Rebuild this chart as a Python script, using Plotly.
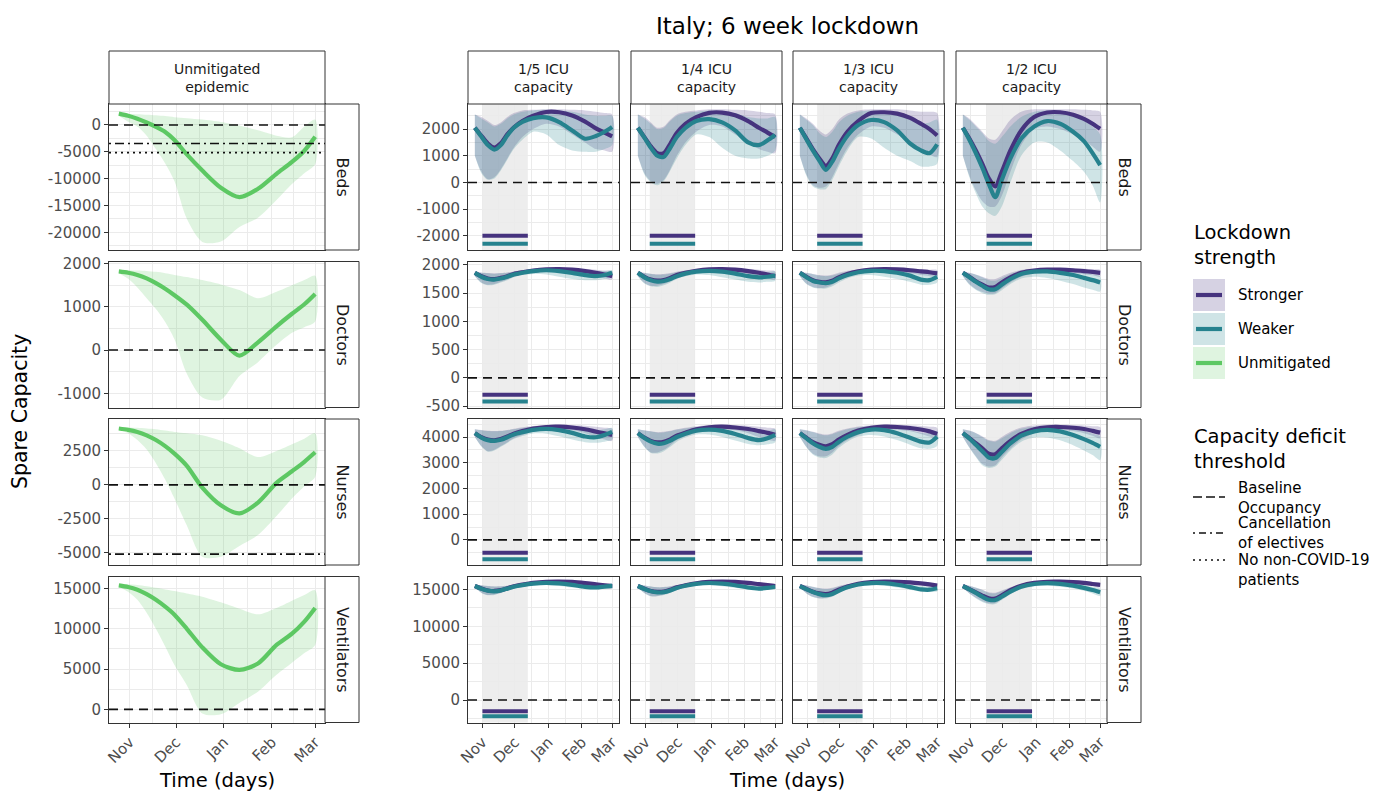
import plotly.graph_objects as go

W, H = 1385, 796
FONT = "DejaVu Sans"

# ---------------------------------------------------------------- data
DATES = ["2020-10-25", "2020-10-31", "2020-11-06", "2020-11-12", "2020-11-18",
         "2020-11-24", "2020-11-30", "2020-12-08", "2020-12-18", "2020-12-30",
         "2021-01-11", "2021-01-23", "2021-02-04", "2021-02-14", "2021-02-22",
         "2021-03-01"]
TICK_DATES = ["2020-11-01", "2020-12-01", "2021-01-01", "2021-02-01", "2021-03-01"]
TICK_MONTHS = ["Nov", "Dec", "Jan", "Feb", "Mar"]
MINOR_DATES = ["2020-11-16", "2020-12-16 12:00", "2021-01-16 12:00", "2021-02-15"]
X_RANGE = ["2020-10-18 15:36", "2021-03-07 08:24"]

RESOURCES = ["Beds", "Doctors", "Nurses", "Ventilators"]
ICU_TRIGGERS = ["1/5 ICU<br>capacity", "1/4 ICU<br>capacity",
                "1/3 ICU<br>capacity", "1/2 ICU<br>capacity"]
LOCKDOWN_START = ["2020-11-01", "2020-11-05", "2020-11-10", "2020-11-16"]
LOCKDOWN_END = ["2020-12-13", "2020-12-17", "2020-12-22", "2020-12-28"]

# unmitigated epidemic (median and interval)
beds_unmit_mid = [2100, 1700, 1150, 450, -350, -1300, -2800, -5500, -8500, -11700,
                  -13450, -11900, -9100, -6900, -4800, -2200]
beds_unmit_lo = [1700, 600, -300, -2000, -4500, -7200, -10500, -17500, -21800, -21700,
                 -19000, -17300, -14000, -11000, -9000, -7300]
beds_unmit_hi = [2100, 2050, 2000, 1900, 1800, 1650, 1450, 1250, 1000, 550,
                 -100, -1000, -2000, -2300, -300, 1000]
doctors_unmit_mid = [1820, 1790, 1740, 1660, 1550, 1420, 1270, 1050, 700, 240,
                     -130, 180, 550, 840, 1060, 1300]
doctors_unmit_lo = [1780, 1650, 1450, 1200, 950, 650, 250, -550, -1100, -1150,
                    -600, -280, 120, 400, 530, 660]
doctors_unmit_hi = [1850, 1850, 1840, 1830, 1810, 1780, 1740, 1690, 1620, 1520,
                    1390, 1200, 1350, 1500, 1620, 1720]
nurses_unmit_mid = [4150, 4050, 3900, 3650, 3300, 2850, 2300, 1400, -200, -1500,
                    -2100, -1300, 150, 1000, 1700, 2400]
nurses_unmit_lo = [4050, 3800, 3300, 2600, 1600, 400, -1000, -3000, -5300, -5300,
                   -4500, -3700, -2300, -1000, -100, 600]
nurses_unmit_hi = [4250, 4230, 4200, 4150, 4100, 4000, 3900, 3800, 3650, 3250,
                   2700, 2050, 2500, 3000, 3400, 3800]
vents_unmit_mid = [15400, 15200, 14850, 14300, 13600, 12750, 11750, 10000, 7700, 5600,
                   4900, 5700, 8000, 9400, 10900, 12600]
vents_unmit_lo = [15200, 14600, 13600, 12000, 10000, 7800, 5500, 3000, -500, -600,
                  800, 2200, 4300, 5800, 7000, 8000]
vents_unmit_hi = [15600, 15550, 15450, 15300, 15100, 14900, 14700, 14400, 14000, 13300,
                  12500, 11800, 12600, 13500, 14200, 14800]

# lockdown scenarios: one list per ICU trigger (1/5, 1/4, 1/3, 1/2)
beds_stronger_mid = [
    [2050, 1750, 1460, 1310, 1470, 1800, 2060, 2300, 2500, 2640, 2630, 2510, 2280, 2030, 1870, 1730],
    [2050, 1700, 1350, 1100, 1100, 1450, 1850, 2200, 2450, 2610, 2620, 2520, 2300, 2050, 1870, 1700],
    [2050, 1650, 1250, 900, 620, 900, 1400, 1900, 2300, 2600, 2630, 2580, 2420, 2200, 2000, 1760],
    [2050, 1650, 1200, 700, 150, -150, 400, 1200, 1950, 2450, 2620, 2630, 2540, 2380, 2200, 2010]]
beds_stronger_lo = [
    [1000, 400, 120, 200, 500, 900, 1300, 1700, 2000, 2200, 2100, 1800, 1500, 1250, 1200, 1150],
    [1000, 350, 50, -50, 100, 500, 1000, 1500, 1900, 2150, 2100, 1800, 1500, 1250, 1150, 1100],
    [1000, 300, -100, -200, -150, 200, 700, 1300, 1800, 2100, 2050, 1800, 1500, 1200, 1050, 950],
    [1000, 250, -300, -700, -900, -900, -500, 400, 1400, 2000, 2100, 2000, 1800, 1600, 1350, 1150]]
beds_stronger_hi = [
    [2550, 2450, 2300, 2150, 2250, 2450, 2600, 2700, 2720, 2740, 2740, 2720, 2700, 2650, 2600, 2550],
    [2550, 2450, 2250, 2050, 2100, 2350, 2550, 2650, 2700, 2740, 2740, 2720, 2700, 2650, 2600, 2550],
    [2550, 2400, 2200, 1950, 1800, 2000, 2350, 2580, 2700, 2740, 2740, 2740, 2700, 2650, 2650, 2600],
    [2550, 2400, 2150, 1900, 1650, 1600, 1900, 2350, 2650, 2740, 2740, 2740, 2740, 2720, 2700, 2650]]
beds_weaker_mid = [
    [2050, 1720, 1400, 1230, 1400, 1760, 2050, 2270, 2410, 2440, 2260, 1950, 1640, 1740, 1900, 2080],
    [2050, 1680, 1300, 1000, 960, 1300, 1700, 2050, 2300, 2370, 2250, 1950, 1500, 1400, 1580, 1780],
    [2050, 1620, 1200, 820, 470, 780, 1250, 1750, 2150, 2340, 2260, 1950, 1460, 1200, 1100, 1430],
    [2050, 1600, 1100, 550, -50, -550, 100, 900, 1650, 2100, 2300, 2200, 1900, 1550, 1100, 650]]
beds_weaker_lo = [
    [1000, 350, 100, 150, 450, 850, 1250, 1600, 1900, 1800, 1400, 1200, 1150, 1150, 1250, 1400],
    [1000, 300, 0, -100, 50, 450, 900, 1400, 1800, 1700, 1300, 1000, 900, 900, 1000, 1200],
    [1000, 250, -150, -250, -250, 100, 600, 1200, 1700, 1650, 1300, 1000, 800, 600, 600, 700],
    [1000, 200, -400, -900, -1150, -1250, -900, 0, 1000, 1500, 1500, 1200, 800, 400, -100, -750]]
beds_weaker_hi = [
    [2550, 2400, 2250, 2100, 2200, 2400, 2550, 2650, 2700, 2720, 2700, 2650, 2550, 2500, 2500, 2500],
    [2550, 2400, 2200, 2000, 2050, 2300, 2500, 2600, 2650, 2700, 2650, 2600, 2450, 2400, 2400, 2450],
    [2550, 2350, 2150, 1850, 1700, 1900, 2250, 2500, 2650, 2700, 2650, 2550, 2350, 2200, 2250, 2350],
    [2550, 2350, 2100, 1850, 1550, 1450, 1700, 2100, 2450, 2650, 2700, 2650, 2550, 2350, 2100, 1800]]

doctors_stronger_mid = [
    [1860, 1800, 1760, 1750, 1770, 1800, 1840, 1870, 1900, 1920, 1925, 1915, 1890, 1860, 1830, 1800],
    [1860, 1790, 1740, 1720, 1730, 1770, 1820, 1860, 1895, 1920, 1925, 1915, 1890, 1860, 1830, 1800],
    [1860, 1790, 1730, 1700, 1690, 1720, 1780, 1840, 1885, 1915, 1925, 1920, 1905, 1885, 1870, 1850],
    [1860, 1790, 1710, 1650, 1600, 1610, 1690, 1780, 1860, 1900, 1915, 1915, 1905, 1890, 1875, 1860]]
doctors_stronger_lo = [
    [1800, 1690, 1650, 1660, 1700, 1740, 1790, 1830, 1860, 1880, 1885, 1865, 1830, 1790, 1760, 1740],
    [1800, 1680, 1630, 1630, 1660, 1710, 1770, 1820, 1860, 1880, 1885, 1865, 1830, 1790, 1760, 1740],
    [1800, 1670, 1610, 1590, 1600, 1650, 1720, 1790, 1840, 1870, 1880, 1870, 1850, 1820, 1800, 1780],
    [1800, 1660, 1570, 1520, 1490, 1500, 1580, 1690, 1790, 1850, 1870, 1870, 1855, 1835, 1815, 1795]]
doctors_stronger_hi = [
    [1880, 1865, 1855, 1850, 1855, 1865, 1885, 1905, 1925, 1940, 1945, 1940, 1930, 1915, 1900, 1885],
    [1880, 1860, 1845, 1835, 1840, 1855, 1880, 1900, 1925, 1940, 1945, 1940, 1930, 1915, 1900, 1885],
    [1880, 1860, 1840, 1820, 1810, 1825, 1860, 1895, 1920, 1940, 1945, 1945, 1935, 1925, 1915, 1905],
    [1880, 1860, 1830, 1790, 1750, 1750, 1800, 1860, 1910, 1935, 1945, 1945, 1940, 1930, 1920, 1910]]
doctors_weaker_mid = [
    [1860, 1790, 1750, 1740, 1760, 1790, 1830, 1860, 1890, 1905, 1890, 1860, 1820, 1800, 1820, 1860],
    [1860, 1780, 1730, 1705, 1715, 1750, 1800, 1845, 1880, 1895, 1880, 1845, 1800, 1780, 1790, 1810],
    [1860, 1780, 1715, 1690, 1675, 1700, 1760, 1820, 1870, 1895, 1890, 1860, 1810, 1740, 1730, 1790],
    [1860, 1780, 1700, 1630, 1570, 1570, 1650, 1750, 1840, 1880, 1885, 1860, 1820, 1770, 1730, 1690]]
doctors_weaker_lo = [
    [1800, 1680, 1640, 1650, 1690, 1730, 1780, 1820, 1840, 1830, 1790, 1750, 1730, 1730, 1750, 1780],
    [1800, 1670, 1620, 1610, 1640, 1690, 1750, 1800, 1830, 1820, 1780, 1740, 1700, 1690, 1700, 1720],
    [1800, 1660, 1600, 1580, 1580, 1620, 1690, 1760, 1810, 1820, 1790, 1750, 1700, 1650, 1650, 1690],
    [1800, 1650, 1560, 1500, 1470, 1480, 1550, 1660, 1760, 1790, 1770, 1720, 1660, 1600, 1560, 1530]]
doctors_weaker_hi = [
    [1880, 1860, 1850, 1840, 1850, 1860, 1880, 1900, 1920, 1930, 1925, 1915, 1900, 1890, 1890, 1900],
    [1880, 1855, 1840, 1825, 1830, 1845, 1870, 1895, 1915, 1925, 1920, 1905, 1885, 1870, 1870, 1880],
    [1880, 1855, 1835, 1810, 1800, 1810, 1845, 1880, 1910, 1925, 1925, 1910, 1885, 1850, 1850, 1870],
    [1880, 1855, 1825, 1780, 1730, 1720, 1770, 1840, 1900, 1925, 1925, 1910, 1890, 1860, 1830, 1800]]

nurses_stronger_mid = [
    [4150, 4000, 3900, 3870, 3920, 4020, 4130, 4230, 4330, 4390, 4400, 4370, 4300, 4210, 4140, 4080],
    [4150, 3980, 3850, 3790, 3810, 3910, 4050, 4170, 4300, 4380, 4400, 4370, 4310, 4230, 4160, 4090],
    [4150, 3970, 3800, 3700, 3640, 3720, 3900, 4080, 4250, 4360, 4400, 4390, 4350, 4290, 4220, 4120],
    [4150, 3960, 3760, 3560, 3350, 3330, 3560, 3850, 4120, 4300, 4380, 4390, 4360, 4310, 4240, 4170]]
nurses_stronger_lo = [
    [4000, 3650, 3450, 3500, 3650, 3800, 3950, 4080, 4200, 4280, 4300, 4260, 4150, 4000, 3900, 3850],
    [4000, 3630, 3400, 3400, 3500, 3680, 3880, 4030, 4170, 4270, 4300, 4260, 4150, 4000, 3900, 3850],
    [4000, 3620, 3350, 3250, 3250, 3400, 3650, 3880, 4080, 4230, 4290, 4280, 4220, 4120, 4020, 3920],
    [4000, 3600, 3250, 2950, 2850, 2900, 3200, 3550, 3900, 4150, 4260, 4270, 4230, 4150, 4050, 3950]]
nurses_stronger_hi = [
    [4300, 4270, 4240, 4230, 4240, 4270, 4320, 4380, 4430, 4470, 4480, 4470, 4440, 4400, 4360, 4320],
    [4300, 4260, 4220, 4190, 4200, 4240, 4300, 4360, 4420, 4470, 4480, 4470, 4440, 4400, 4360, 4320],
    [4300, 4260, 4200, 4140, 4100, 4140, 4240, 4330, 4410, 4460, 4480, 4480, 4460, 4430, 4400, 4360],
    [4300, 4250, 4160, 4030, 3880, 3850, 4000, 4200, 4370, 4450, 4480, 4480, 4470, 4450, 4420, 4390]]
nurses_weaker_mid = [
    [4150, 3980, 3880, 3850, 3890, 3990, 4100, 4190, 4280, 4320, 4270, 4160, 4020, 3990, 4080, 4200],
    [4150, 3960, 3820, 3740, 3760, 3860, 4000, 4130, 4250, 4290, 4240, 4120, 3960, 3880, 3950, 4080],
    [4150, 3950, 3760, 3620, 3540, 3620, 3810, 4010, 4190, 4290, 4270, 4150, 3970, 3820, 3790, 4010],
    [4150, 3940, 3700, 3450, 3200, 3180, 3420, 3750, 4050, 4220, 4280, 4220, 4080, 3920, 3770, 3620]]
nurses_weaker_lo = [
    [4000, 3630, 3430, 3480, 3620, 3770, 3920, 4040, 4140, 4130, 4030, 3900, 3800, 3780, 3820, 3900],
    [4000, 3610, 3380, 3360, 3450, 3620, 3820, 3980, 4100, 4100, 4000, 3860, 3730, 3680, 3720, 3800],
    [4000, 3600, 3320, 3200, 3180, 3320, 3580, 3820, 4020, 4080, 4020, 3880, 3700, 3560, 3540, 3650],
    [4000, 3580, 3220, 2900, 2800, 2850, 3120, 3480, 3820, 3980, 3980, 3870, 3680, 3480, 3300, 3100]]
nurses_weaker_hi = [
    [4300, 4260, 4230, 4220, 4230, 4260, 4300, 4350, 4400, 4420, 4400, 4350, 4280, 4250, 4300, 4350],
    [4300, 4250, 4210, 4170, 4180, 4220, 4280, 4330, 4390, 4410, 4390, 4330, 4240, 4200, 4230, 4300],
    [4300, 4250, 4190, 4110, 4070, 4110, 4200, 4300, 4380, 4420, 4410, 4350, 4260, 4170, 4150, 4230],
    [4300, 4240, 4150, 4000, 3850, 3820, 3950, 4150, 4320, 4400, 4420, 4390, 4320, 4230, 4130, 4030]]

vents_stronger_mid = [
    [15450, 15100, 14850, 14780, 14900, 15150, 15420, 15650, 15880, 16020, 16050, 16000, 15850, 15680, 15550, 15450],
    [15450, 15070, 14770, 14650, 14700, 14950, 15280, 15560, 15830, 16000, 16050, 16000, 15870, 15700, 15570, 15450],
    [15450, 15050, 14680, 14450, 14350, 14550, 14950, 15380, 15750, 15970, 16050, 16030, 15950, 15820, 15680, 15520],
    [15450, 15030, 14580, 14150, 13800, 13750, 14200, 14880, 15500, 15880, 16030, 16040, 15980, 15870, 15730, 15600]]
vents_stronger_lo = [
    [15200, 14550, 14250, 14300, 14550, 14850, 15150, 15420, 15680, 15850, 15900, 15820, 15620, 15400, 15230, 15100],
    [15200, 14500, 14100, 14100, 14300, 14600, 15000, 15320, 15620, 15820, 15900, 15820, 15620, 15400, 15230, 15100],
    [15200, 14480, 13980, 13800, 13850, 14100, 14600, 15100, 15520, 15780, 15880, 15850, 15720, 15550, 15380, 15200],
    [15200, 14450, 13850, 13400, 13100, 13150, 13700, 14500, 15220, 15650, 15850, 15850, 15750, 15600, 15430, 15260]]
vents_stronger_hi = [
    [15650, 15550, 15450, 15400, 15420, 15500, 15640, 15800, 15980, 16120, 16150, 16120, 16020, 15900, 15800, 15720],
    [15650, 15530, 15400, 15300, 15320, 15420, 15580, 15750, 15950, 16100, 16150, 16120, 16030, 15920, 15820, 15720],
    [15650, 15520, 15350, 15180, 15100, 15200, 15450, 15680, 15900, 16080, 16150, 16140, 16100, 16000, 15900, 15800],
    [15650, 15500, 15250, 14950, 14600, 14550, 14850, 15300, 15750, 16020, 16140, 16150, 16120, 16050, 15950, 15850]]
vents_weaker_mid = [
    [15450, 15080, 14820, 14730, 14850, 15100, 15360, 15580, 15780, 15880, 15800, 15600, 15330, 15250, 15380, 15480],
    [15450, 15050, 14730, 14580, 14620, 14850, 15180, 15480, 15740, 15860, 15780, 15560, 15250, 15100, 15200, 15350],
    [15450, 15030, 14640, 14350, 14200, 14380, 14800, 15270, 15650, 15850, 15830, 15620, 15300, 15000, 14950, 15150],
    [15450, 15010, 14520, 14000, 13600, 13550, 14000, 14700, 15350, 15720, 15850, 15750, 15500, 15200, 14900, 14600]]
vents_weaker_lo = [
    [15200, 14520, 14200, 14250, 14500, 14800, 15080, 15320, 15530, 15580, 15450, 15250, 15050, 15000, 15080, 15150],
    [15200, 14480, 14050, 14050, 14230, 14520, 14900, 15220, 15480, 15560, 15420, 15200, 14950, 14850, 14900, 15000],
    [15200, 14450, 13950, 13750, 13750, 14000, 14500, 15000, 15400, 15550, 15480, 15250, 14950, 14700, 14650, 14750],
    [15200, 14420, 13800, 13300, 13000, 13000, 13550, 14350, 15050, 15400, 15480, 15350, 15100, 14800, 14450, 14100]]
vents_weaker_hi = [
    [15650, 15540, 15430, 15380, 15400, 15480, 15600, 15750, 15920, 16000, 15960, 15850, 15650, 15570, 15650, 15750],
    [15650, 15520, 15380, 15270, 15280, 15380, 15530, 15700, 15900, 15990, 15950, 15820, 15600, 15480, 15530, 15650],
    [15650, 15510, 15330, 15150, 15050, 15130, 15380, 15620, 15860, 15990, 15990, 15880, 15680, 15450, 15400, 15500],
    [15650, 15490, 15230, 14900, 14500, 14450, 14750, 15200, 15680, 15950, 16020, 15960, 15800, 15600, 15350, 15100]]

# lockdown-period markers (per resource) and capacity deficit thresholds
STRONGER_BAR = [-2000, -300, -500, -1500]
WEAKER_BAR = [-2300, -420, -750, -2200]
BASELINE = [0, 0, 0, 0]
CANCEL_ELECTIVES = [-3450, None, -5100, None]
NO_NON_COVID = [-5150, None, None, None]

UNMIT = [(beds_unmit_mid, beds_unmit_lo, beds_unmit_hi),
         (doctors_unmit_mid, doctors_unmit_lo, doctors_unmit_hi),
         (nurses_unmit_mid, nurses_unmit_lo, nurses_unmit_hi),
         (vents_unmit_mid, vents_unmit_lo, vents_unmit_hi)]
STRONGER = [(beds_stronger_mid, beds_stronger_lo, beds_stronger_hi),
            (doctors_stronger_mid, doctors_stronger_lo, doctors_stronger_hi),
            (nurses_stronger_mid, nurses_stronger_lo, nurses_stronger_hi),
            (vents_stronger_mid, vents_stronger_lo, vents_stronger_hi)]
WEAKER = [(beds_weaker_mid, beds_weaker_lo, beds_weaker_hi),
          (doctors_weaker_mid, doctors_weaker_lo, doctors_weaker_hi),
          (nurses_weaker_mid, nurses_weaker_lo, nurses_weaker_hi),
          (vents_weaker_mid, vents_weaker_lo, vents_weaker_hi)]

# ---------------------------------------------------------------- style
C_STRONG, C_WEAK, C_UNMIT = "#46337E", "#26828E", "#5DC863"
F_STRONG = "rgba(70,51,126,0.22)"
F_WEAK = "rgba(38,130,142,0.22)"
F_UNMIT = "rgba(93,200,99,0.2)"
GRID = "#EBEBEB"
BORDER = "#333333"
TICK_FONT = dict(family=FONT, size=15, color="#4D4D4D")

COL_X = [(109, 325), (468, 619), (631, 782), (793, 944), (956, 1107)]
ROW_Y = [(104, 250), (261.5, 407.5), (419, 565), (576.5, 722.5)]

LEFT_RANGE = [(-23300, 3900), (-1330, 2050), (-5900, 4850), (-1630, 16500)]
LEFT_TICKS = [[-20000, -15000, -10000, -5000, 0], [-1000, 0, 1000, 2000],
              [-5000, -2500, 0, 2500], [0, 5000, 10000, 15000]]
RIGHT_RANGE = [(-2530, 2940), (-525, 2060), (-975, 4700), (-3040, 16740)]
RIGHT_TICKS = [[-2000, -1000, 0, 1000, 2000], [-500, 0, 500, 1000, 1500, 2000],
               [-1000, 0, 1000, 2000, 3000, 4000], [0, 5000, 10000, 15000]]


def minor_between(ticks, lo, hi):
    step = ticks[1] - ticks[0]
    vals = [t - step / 2 for t in ticks] + [ticks[-1] + step / 2]
    return [v for v in vals if lo < v < hi]


def sid(r, c):
    n = r * 5 + c + 1
    return "" if n == 1 else str(n)


def px(x):
    return x / W


def py(y):
    return 1 - y / H


fig = go.Figure()


def band(xs, lo, hi, fill, s):
    fig.add_trace(go.Scatter(
        x=xs + xs[::-1], y=hi + lo[::-1], fill="toself", fillcolor=fill,
        mode="lines", line=dict(width=0, shape="spline", smoothing=0.8),
        hoverinfo="skip", showlegend=False, xaxis="x" + s, yaxis="y" + s))


def curve(xs, ys, color, s, width=4.2):
    fig.add_trace(go.Scatter(
        x=xs, y=ys, mode="lines", line=dict(color=color, width=width,
                                            shape="spline", smoothing=0.8),
        hoverinfo="skip", showlegend=False, xaxis="x" + s, yaxis="y" + s))


shapes = []
annotations = []
axes = {}

for r in range(4):
    for c in range(5):
        s = sid(r, c)
        x0, x1 = COL_X[c]
        top, bot = ROW_Y[r]
        bottom_row = r == 3
        axes["xaxis" + s] = dict(
            domain=[px(x0), px(x1)], anchor="y" + s, type="date", range=X_RANGE,
            automargin=False,
            tickmode="array", tickvals=TICK_DATES, ticktext=TICK_MONTHS,
            showticklabels=bottom_row, ticks="outside" if bottom_row else "",
            ticklen=4, tickwidth=1, tickcolor=BORDER, tickangle=-45,
            tickfont=TICK_FONT, showgrid=True, gridcolor=GRID, gridwidth=1.1,
            minor=dict(tickvals=MINOR_DATES, showgrid=True, gridcolor=GRID,
                       gridwidth=0.55, ticks=""),
            showline=True, mirror=True, linecolor=BORDER, linewidth=1,
            zeroline=False, fixedrange=True)
        if c == 0:
            yr, yt = LEFT_RANGE[r], LEFT_TICKS[r]
        else:
            yr, yt = RIGHT_RANGE[r], RIGHT_TICKS[r]
        labelled = c <= 1
        axes["yaxis" + s] = dict(
            domain=[py(bot), py(top)], anchor="x" + s, range=list(yr),
            automargin=False,
            tickmode="array", tickvals=yt, ticktext=[str(v) for v in yt],
            showticklabels=labelled, ticks="outside" if labelled else "",
            ticklen=4, tickwidth=1, tickcolor=BORDER, tickfont=TICK_FONT,
            showgrid=True, gridcolor=GRID, gridwidth=1.1,
            minor=dict(tickvals=minor_between(yt, *yr), showgrid=True,
                       gridcolor=GRID, gridwidth=0.55, ticks=""),
            showline=True, mirror=True, linecolor=BORDER, linewidth=1,
            zeroline=False, fixedrange=True)

        if c == 0:
            mid, lo, hi = UNMIT[r]
            band(DATES, lo, hi, F_UNMIT, s)
            curve(DATES, mid, C_UNMIT, s)
        else:
            k = c - 1
            shapes.append(dict(type="rect", xref="x" + s, yref="y" + s + " domain",
                               x0=LOCKDOWN_START[k], x1=LOCKDOWN_END[k], y0=0, y1=1,
                               fillcolor="#EDEDED", line=dict(width=0), layer="below"))
            smid, slo, shi = STRONGER[r]
            wmid, wlo, whi = WEAKER[r]
            band(DATES, slo[k], shi[k], F_STRONG, s)
            band(DATES, wlo[k], whi[k], F_WEAK, s)
            curve(DATES, smid[k], C_STRONG, s)
            curve(DATES, wmid[k], C_WEAK, s)
            for yv, col in ((STRONGER_BAR[r], C_STRONG), (WEAKER_BAR[r], C_WEAK)):
                fig.add_trace(go.Scatter(
                    x=[LOCKDOWN_START[k], LOCKDOWN_END[k]], y=[yv, yv], mode="lines",
                    line=dict(color=col, width=4), hoverinfo="skip",
                    showlegend=False, xaxis="x" + s, yaxis="y" + s))

        # capacity thresholds
        for val, dash in ((BASELINE[r], "9px,6px"),
                          (CANCEL_ELECTIVES[r], "2px,4px,9px,4px"),
                          (NO_NON_COVID[r], "2px,4px")):
            if val is None or not (yr[0] < val < yr[1]):
                continue
            shapes.append(dict(type="line", xref="x" + s + " domain", yref="y" + s,
                               x0=0, x1=1, y0=val, y1=val,
                               line=dict(color="#111111", width=1.6, dash=dash),
                               layer="above"))


def paper_rect(x0, y0, x1, y1):
    shapes.append(dict(type="rect", xref="paper", yref="paper",
                       x0=px(x0), x1=px(x1), y0=py(y1), y1=py(y0),
                       fillcolor="white", line=dict(color=BORDER, width=1)))


def text(x, y, t, size, angle=0, anchor="center", color="#1A1A1A"):
    annotations.append(dict(xref="paper", yref="paper", x=px(x), y=py(y), text=t,
                            showarrow=False, xanchor=anchor, yanchor="middle",
                            textangle=angle, align="left" if anchor == "left" else "center",
                            font=dict(family=FONT, size=size, color=color)))


# column strips
col_titles = ["Unmitigated<br>epidemic"] + ICU_TRIGGERS
for c, title in enumerate(col_titles):
    x0, x1 = COL_X[c]
    paper_rect(x0, 51, x1, 104)
    text((x0 + x1) / 2, 78, title, 14)

# row strips
for r, name in enumerate(RESOURCES):
    top, bot = ROW_Y[r]
    for x0, x1 in ((325, 359), (1107, 1141)):
        paper_rect(x0, top, x1, bot)
        text((x0 + x1) / 2 + 0.5, (top + bot) / 2, name, 16, angle=90)

# titles
text(787, 26, "Italy; 6 week lockdown", 23, color="black")
text(20, 412, "Spare Capacity", 20.5, angle=-90, color="black")
text(217, 780, "Time (days)", 19.5, color="black")
text(787, 780, "Time (days)", 19.5, color="black")

# legend: lockdown strength
text(1192, 245, "Lockdown<br>strength", 19.5, anchor="left", color="black")
for i, (lab, col, fill) in enumerate((("Stronger", C_STRONG, F_STRONG),
                                      ("Weaker", C_WEAK, F_WEAK),
                                      ("Unmitigated", C_UNMIT, F_UNMIT))):
    yc = 295 + 34 * i
    shapes.append(dict(type="rect", xref="paper", yref="paper",
                       x0=px(1193), x1=px(1225), y0=py(yc + 16), y1=py(yc - 16),
                       fillcolor=fill, line=dict(width=0)))
    shapes.append(dict(type="line", xref="paper", yref="paper",
                       x0=px(1196), x1=px(1222), y0=py(yc), y1=py(yc),
                       line=dict(color=col, width=4.2)))
    text(1236, yc, lab, 15, anchor="left", color="black")

# legend: capacity deficit threshold
text(1192, 449, "Capacity deficit<br>threshold", 19.5, anchor="left", color="black")
for lab, key_y, lab_y, dash in (("Baseline<br>Occupancy", 497, 497.5, "9px,4px"),
                                ("Cancellation<br>of electives", 533, 533, "2px,4px,7px,4px"),
                                ("No non-COVID-19<br>patients", 560, 569.5, "2px,4px")):
    shapes.append(dict(type="line", xref="paper", yref="paper",
                       x0=px(1193), x1=px(1225), y0=py(key_y), y1=py(key_y),
                       line=dict(color="#111111", width=1.6, dash=dash)))
    text(1236, lab_y, lab, 15, anchor="left", color="black")

fig.update_layout(
    width=W, height=H, margin=dict(l=0, r=0, t=0, b=0, autoexpand=False),
    paper_bgcolor="white", plot_bgcolor="white", showlegend=False,
    font=dict(family=FONT), shapes=shapes, annotations=annotations, **axes)

fig.write_html("out.html")
